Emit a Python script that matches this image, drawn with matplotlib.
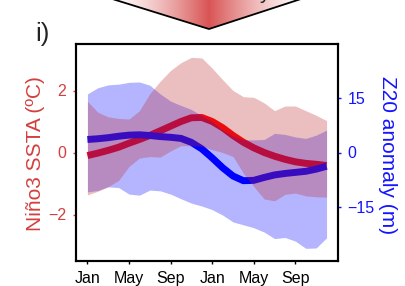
import numpy as np
import matplotlib
matplotlib.use("Agg")
import matplotlib.pyplot as plt
from matplotlib.patches import Polygon

plt.rcParams['font.family'] = ['Liberation Sans', 'DejaVu Sans']

# months from Jan (year 0) to Dec (year 1)
months = np.arange(24)
tick_pos = [0, 4, 8, 12, 16, 20]
tick_labels = ['Jan', 'May', 'Sep', 'Jan', 'May', 'Sep']

# Nino3 SSTA (degC): composite mean and spread
sst_mean = [-0.10, -0.02, 0.07, 0.17, 0.30, 0.42, 0.55, 0.70, 0.85, 1.00, 1.12, 1.13,
            1.00, 0.80, 0.55, 0.33, 0.15, 0.00, -0.12, -0.22, -0.30, -0.35, -0.38, -0.42]
sst_upper = [1.65, 1.30, 1.15, 1.10, 1.08, 1.35, 1.90, 2.30, 2.65, 2.90, 3.07, 3.05,
             2.72, 2.35, 2.00, 1.80, 1.78, 1.60, 1.35, 1.50, 1.50, 1.35, 1.20, 1.03]
sst_lower = [-1.37, -1.25, -1.10, -0.90, -0.45, -0.18, -0.13, -0.15, 0.05, 0.22, 0.22, 0.20,
             0.09, 0.00, -0.13, -0.67, -1.10, -1.50, -1.56, -1.35, -1.31, -1.40, -1.43, -1.44]

# Z20 anomaly (m): composite mean and spread
z20_mean = [3.6, 3.8, 4.1, 4.5, 4.8, 4.9, 4.7, 4.4, 4.2, 3.9, 2.8, 1.0,
            -1.5, -4.2, -6.5, -7.8, -7.7, -6.9, -6.2, -5.8, -5.5, -5.2, -4.6, -3.8]
z20_upper = [16.2, 17.9, 18.7, 18.9, 19.4, 19.5, 18.6, 16.2, 14.2, 13.0, 11.9, 10.2,
             8.5, 6.2, 4.6, 3.5, 3.5, 3.6, 5.3, 5.0, 4.3, 3.9, 4.8, 6.2]
z20_lower = [-10.9, -10.5, -9.5, -9.7, -11.5, -11.8, -10.4, -10.6, -11.5, -12.8, -14.0, -14.8,
             -15.8, -17.3, -19.2, -20.0, -20.8, -22.0, -23.8, -23.5, -24.5, -26.5, -26.4, -23.6]

red_txt = '#d43f3f'
blue_txt = '#1414ff'

W, H = 405, 286
fig = plt.figure(figsize=(W / 100, H / 100), dpi=100)

# decoration layer in pixel coordinates (arrow from the panel above, panel letter)
deco = fig.add_axes([0, 0, 1, 1], zorder=-5)
deco.set_xlim(0, W)
deco.set_ylim(H, 0)
deco.axis('off')
arrow_pts = [(106, -3), (209, 29), (307, -3)]
xx = np.linspace(106, 307, 300)
shade = np.clip(1 - np.abs(xx - 209) / 100, 0, 1) ** 1.4
c0 = np.array([1.0, 1.0, 1.0])
c1 = np.array([0.85, 0.33, 0.33])
grad = (c0[None, :] * (1 - shade[:, None]) + c1[None, :] * shade[:, None])[None, :, :]
img = deco.imshow(grad, extent=[106, 307, 29, -3], aspect='auto')
clip = Polygon(arrow_pts, closed=True, facecolor='none', edgecolor='none',
               transform=deco.transData)
deco.add_patch(clip)
img.set_clip_path(clip)
deco.plot([106, 209, 307], [-3, 29, -3], color='black', lw=1.3)
deco.text(264, 3, 'y', fontsize=15, ha='center', va='bottom', color='#222222')
deco.text(35, 34, 'i)', fontsize=18.5, ha='left', va='center', color='#222222')

ax = fig.add_axes([76 / W, 1 - 261 / H, 262 / W, 217 / H])
ax2 = ax.twinx()
ax.set_xlim(-1.1, 24.1)
ax.set_ylim(-3.5, 3.5)
ax2.set_ylim(-30, 30)

# lines underneath, shading on top (blue items use the right-hand axis scale)
ax.plot(months, sst_mean, color='red', lw=5, solid_capstyle='butt', zorder=2)
ax.plot(months, z20_mean, color='blue', lw=5, solid_capstyle='butt', zorder=2.1,
        transform=ax2.transData)
ax.fill_between(months, z20_lower, z20_upper, color='blue', alpha=0.29, lw=0,
                zorder=3, transform=ax2.transData)
ax.fill_between(months, sst_lower, sst_upper, color='#be2d2d', alpha=0.3, lw=0, zorder=4)
ax.set_xlim(-1.1, 24.1)
ax.set_ylim(-3.5, 3.5)

ax.set_xticks(tick_pos, tick_labels)
ax.set_yticks([-2, 0, 2])
ax2.set_yticks([-15, 0, 15])
ax.tick_params(axis='x', length=2, width=1, labelsize=11.5, pad=5, colors='black')
ax.tick_params(axis='y', length=2, width=1, labelsize=11.5, pad=5, colors=red_txt)
ax2.tick_params(axis='y', length=2, width=1, labelsize=11.5, pad=5, colors=blue_txt)

for a in (ax, ax2):
    for s in a.spines.values():
        s.set_linewidth(1.5)
        s.set_color('black')

fig.text(35.5 / W, 1 - 154 / H, 'Niño3 SSTA (ºC)', rotation=90, color=red_txt,
         fontsize=15, ha='center', va='center')
fig.text(388 / W, 1 - 155 / H, 'Z20 anomaly (m)', rotation=270, color=blue_txt,
         fontsize=15, ha='center', va='center')

fig.savefig('out.png', dpi=100)
